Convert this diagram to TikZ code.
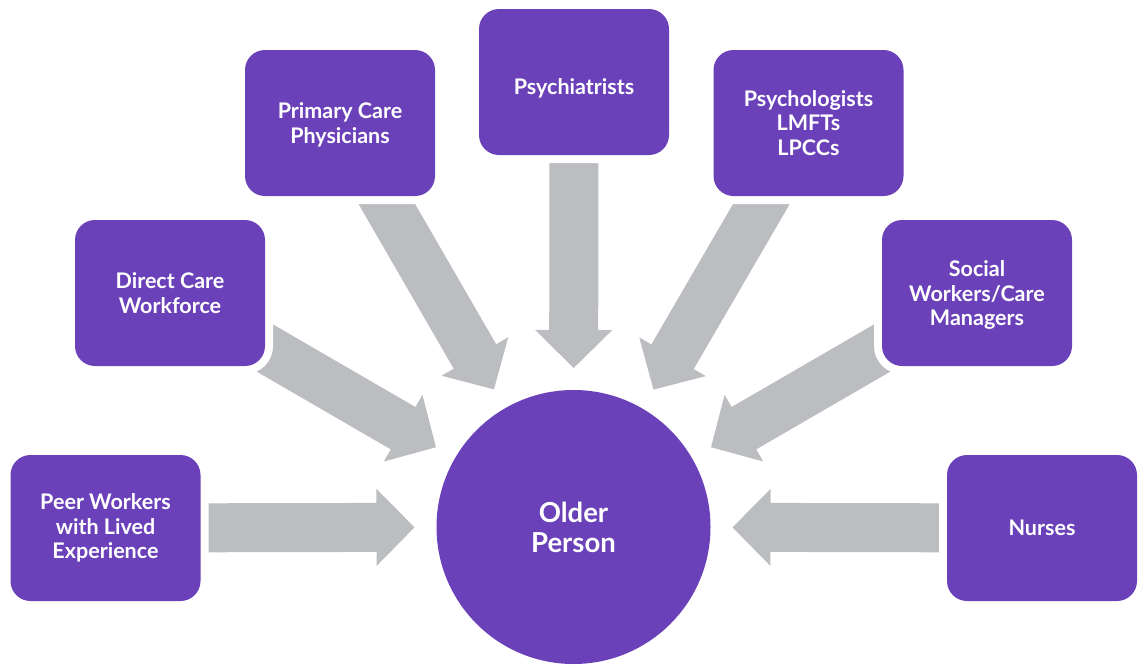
\documentclass[tikz,border=0pt]{standalone}
\usepackage{fontspec}
\setmainfont{Lato}
\usetikzlibrary{calc,backgrounds}
\definecolor{pur}{HTML}{6A41B9}
\definecolor{arr}{HTML}{BCBDC0}
\newcommand\blockarrow[1]{%
  \fill[arr] ($(c.center)!159pt!(#1.center)$)
    -- ($(c.center)!200.7pt!11.06:(#1.center)$)
    -- ($(c.center)!198.5pt!7.09:(#1.center)$)
    -- ($(#1.center)!24.5pt!-90:(c.center)$)
    -- ($(#1.center)!24.5pt!90:(c.center)$)
    -- ($(c.center)!198.5pt!-7.09:(#1.center)$)
    -- ($(c.center)!200.7pt!-11.06:(#1.center)$)
    -- cycle;}
\newcommand\lowertext[2]{\raisebox{-#1}[\height][\depth]{#2}}
\begin{document}
\begin{tikzpicture}[x=1pt,y=-1pt,
  box/.style={rectangle, rounded corners=20pt, fill=pur, minimum width=190pt,
    minimum height=146pt, text=white, align=center, inner sep=0pt,
    font=\bfseries\fontsize{21.5}{24.5}\selectfont,
    preaction={draw=white, line width=16pt}},
  hub/.style={circle, fill=pur, minimum size=274pt, inner sep=0pt, text=white,
    align=center, font=\bfseries\fontsize{27.5}{30}\selectfont}]
\useasboundingbox (0,0) rectangle (1143,665);
\node[hub] (c) at (573.5,527) {Older\\Person};
\node[box] (peer) at (105.5,528) {Peer Workers\\with Lived\\Experience};
\node[box] (direct) at (170,293) {Direct Care\\Workforce};
\node[box] (primary) at (340,123) {\lowertext{2pt}{Primary Care}\\\lowertext{2pt}{Physicians}};
\node[box] (psychi) at (574,82) {\lowertext{6pt}{Psychiatrists}};
\node[box] (psycho) at (808.5,123) {Psychologists\\LMFTs\\LPCCs};
\node[box] (social) at (977,293) {\lowertext{2pt}{Social}\\\lowertext{2pt}{Workers/Care}\\\lowertext{2pt}{Managers}};
\node[box] (nurses) at (1042,528) {Nurses};
\begin{scope}[on background layer]
\blockarrow{peer}
\blockarrow{direct}
\blockarrow{primary}
\blockarrow{psychi}
\blockarrow{psycho}
\blockarrow{social}
\blockarrow{nurses}
\end{scope}
\end{tikzpicture}
\end{document}
